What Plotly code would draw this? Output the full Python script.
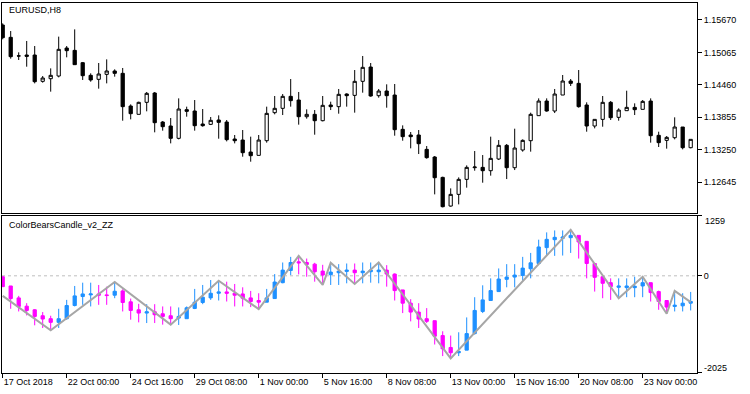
import plotly.graph_objects as go

# ---------------- data ----------------
bar_index = list(range(87))

tick_idx = [0, 8, 16, 24, 32, 40, 48, 56, 64, 72, 80]
tick_text = ["17 Oct 2018", "22 Oct 00:00", "24 Oct 16:00", "29 Oct 08:00",
             "1 Nov 00:00", "5 Nov 16:00", "8 Nov 08:00", "13 Nov 00:00",
             "15 Nov 16:00", "20 Nov 08:00", "23 Nov 00:00"]

price_ticks = [1.12645, 1.13250, 1.13855, 1.14460, 1.15065, 1.15670]

price_open = [
    1.15576, 1.15346, 1.14997, 1.15016, 1.15016, 1.14525, 1.14574, 1.14624, 1.15147, 1.15103,
    1.14873, 1.14637, 1.14562, 1.14655, 1.14718, 1.14674, 1.14064, 1.13909, 1.14133, 1.14307,
    1.13765, 1.13691, 1.13461, 1.13996, 1.13971, 1.13728, 1.13722, 1.13803, 1.13765, 1.13448,
    1.13429, 1.13205, 1.13143, 1.13417, 1.13940, 1.14021, 1.14245, 1.14176, 1.13865, 1.13909,
    1.13790, 1.14083, 1.14052, 1.14288, 1.14263, 1.14525, 1.14792, 1.14257, 1.14344, 1.14269,
    1.13629, 1.13523, 1.13523, 1.13255, 1.13112, 1.12732, 1.12197, 1.12415, 1.12695, 1.12913,
    1.12919, 1.12857, 1.13075, 1.13330, 1.12913, 1.13243, 1.13417, 1.13884, 1.14157, 1.13971,
    1.14269, 1.14531, 1.14487, 1.14083, 1.13691, 1.13815, 1.14133, 1.13853, 1.13977, 1.14039,
    1.14002, 1.14157, 1.13517, 1.13423, 1.13473, 1.13672, 1.13286]
price_high = [
    1.15607, 1.15464, 1.15066, 1.15278, 1.15184, 1.14624, 1.14767, 1.15359, 1.15184, 1.15495,
    1.14886, 1.14674, 1.14867, 1.14935, 1.14749, 1.14774, 1.14095, 1.14145, 1.14326, 1.14326,
    1.13784, 1.13840, 1.14207, 1.14052, 1.14176, 1.14008, 1.13859, 1.13890, 1.13803, 1.13523,
    1.13616, 1.13492, 1.13523, 1.14052, 1.14251, 1.14288, 1.14568, 1.14326, 1.14002, 1.13989,
    1.14251, 1.14145, 1.14382, 1.14301, 1.14736, 1.14998, 1.14867, 1.14382, 1.14469, 1.14475,
    1.13703, 1.13579, 1.13616, 1.13317, 1.13131, 1.12745, 1.12527, 1.12732, 1.12956, 1.13224,
    1.13149, 1.13492, 1.13429, 1.13355, 1.13641, 1.13442, 1.13940, 1.14207, 1.14207, 1.14382,
    1.14643, 1.14568, 1.14736, 1.14133, 1.13815, 1.14251, 1.14157, 1.14021, 1.14350, 1.14114,
    1.14176, 1.14207, 1.13585, 1.13504, 1.13853, 1.13672, 1.13442]
price_low = [
    1.15309, 1.14948, 1.14923, 1.14798, 1.14487, 1.14500, 1.14332, 1.14599, 1.14973, 1.14836,
    1.14550, 1.14518, 1.14388, 1.14487, 1.14612, 1.13790, 1.13815, 1.13909, 1.13965, 1.13573,
    1.13604, 1.13367, 1.13442, 1.13865, 1.13604, 1.13678, 1.13709, 1.13454, 1.13404, 1.13367,
    1.13118, 1.13025, 1.13143, 1.13380, 1.13909, 1.13896, 1.14052, 1.13716, 1.13828, 1.13529,
    1.13778, 1.13989, 1.13921, 1.14052, 1.13940, 1.14313, 1.14238, 1.14220, 1.14033, 1.13510,
    1.13417, 1.13274, 1.13168, 1.13081, 1.12415, 1.12172, 1.12185, 1.12228, 1.12540, 1.12857,
    1.12633, 1.12764, 1.13056, 1.12701, 1.12869, 1.13212, 1.13212, 1.13884, 1.13958, 1.13933,
    1.14269, 1.14438, 1.14033, 1.13585, 1.13647, 1.13678, 1.13803, 1.13790, 1.13977, 1.13896,
    1.14002, 1.13380, 1.13299, 1.13268, 1.13442, 1.13255, 1.13274]
price_close = [
    1.15340, 1.14985, 1.15000, 1.14991, 1.14518, 1.14587, 1.14637, 1.15122, 1.15097, 1.14836,
    1.14630, 1.14550, 1.14662, 1.14718, 1.14674, 1.14052, 1.13921, 1.14133, 1.14301, 1.13753,
    1.13678, 1.13461, 1.14008, 1.13965, 1.13697, 1.13697, 1.13797, 1.13759, 1.13436, 1.13417,
    1.13193, 1.13137, 1.13429, 1.13927, 1.14021, 1.14245, 1.14164, 1.13865, 1.13909, 1.13790,
    1.14077, 1.14052, 1.14282, 1.14257, 1.14525, 1.14786, 1.14251, 1.14344, 1.14257, 1.13622,
    1.13492, 1.13492, 1.13361, 1.13100, 1.12726, 1.12185, 1.12415, 1.12695, 1.12919, 1.12925,
    1.12857, 1.13087, 1.13330, 1.12913, 1.13280, 1.13423, 1.13909, 1.14157, 1.13971, 1.14288,
    1.14531, 1.14487, 1.14052, 1.13691, 1.13815, 1.14133, 1.13846, 1.13989, 1.14039, 1.13996,
    1.14151, 1.13510, 1.13380, 1.13479, 1.13672, 1.13286, 1.13442]

bears_open = [
    -19, -213, -463, -637, -713, -838, -900, -977, -900, -623,
    -435, -400, -380, -400, -407, -317, -546, -713, -782, -755,
    -796, -838, -887, -900, -685, -560, -463, -366, -338, -366,
    -380, -463, -518, -553, -477, -144, 113, 294, 280, 245,
    99, 23, 65, 93, 120, 65, 86, 86, 120, 37,
    -296, -574, -761, -900, -942, -1254, -1504, -1615, -1560, -1213,
    -748, -518, -331, -74, -26, 9, 148, 259, 592, 759,
    787, 801, 849, 724, 259, -19, -144, -241, -248, -248,
    -213, -144, -331, -518, -643, -630, -574]
bears_high = [
    -19, -213, -421, -574, -699, -761, -838, -692, -505, -213,
    -144, -144, -192, -227, -123, -282, -477, -588, -595, -595,
    -643, -643, -664, -643, -275, -192, -88, -102, -123, -171,
    -241, -317, -366, -275, 37, 280, 398, 419, 363, 273,
    231, 273, 245, 259, 259, 280, 280, 280, 224, 51,
    -296, -491, -574, -678, -942, -1164, -1254, -1185, -873, -449,
    -199, -53, 155, 245, 245, 398, 481, 759, 912, 953,
    953, 967, 849, 724, 259, -19, -53, -53, -53, -19,
    -19, -144, -310, -518, -317, -366, -338]
bears_low = [
    -227, -692, -748, -831, -1039, -1095, -1143, -1095, -921, -643,
    -609, -643, -609, -609, -470, -748, -921, -977, -991, -991,
    -1025, -1025, -1032, -900, -699, -595, -505, -518, -539, -643,
    -643, -657, -700, -553, -477, -157, 16, 30, -19, -123,
    -192, -192, -192, -157, -171, -157, -144, -157, -227, -518,
    -782, -956, -1095, -991, -1442, -1685, -1734, -1685, -1560, -1234,
    -782, -518, -331, -241, -241, -102, -53, 259, 433, 419,
    426, 481, 363, -53, -331, -470, -505, -470, -449, -449,
    -449, -539, -713, -796, -748, -748, -727]
bears_close = [
    -227, -477, -643, -727, -852, -907, -977, -900, -623, -421,
    -380, -380, -407, -414, -324, -560, -727, -782, -755, -817,
    -852, -900, -852, -671, -553, -449, -366, -338, -366, -407,
    -470, -539, -553, -463, -130, 120, 280, 273, 238, 86,
    16, 79, 99, 120, 65, 99, 120, 120, 37, -310,
    -574, -761, -907, -956, -1268, -1532, -1615, -1588, -1213, -727,
    -505, -310, -67, -26, 16, 162, 273, 606, 766, 808,
    815, 849, 710, 259, -32, -157, -227, -213, -213, -220,
    -144, -352, -539, -657, -616, -574, -539]

zz_index = [0, 6, 14, 21, 27, 32, 37, 40, 41, 44, 47, 56, 71, 77, 80, 83, 84, 86]
zz_value = [-421, -1143, -130, -1025, -102, -700, 419, -192, 273, -171, 280,
            -1734, 967, -470, -19, -796, -317, -553]

ind_ticks = [1259, 0, -2025]

# ---------------- figure ----------------
FONT = "Liberation Sans, Arial, sans-serif"
fig = go.Figure()

fig.add_trace(go.Candlestick(
    x=bar_index, open=price_open, high=price_high, low=price_low, close=price_close,
    xaxis="x", yaxis="y", whiskerwidth=0, showlegend=False, hoverinfo="skip",
    increasing=dict(line=dict(color="black", width=1), fillcolor="white"),
    decreasing=dict(line=dict(color="black", width=1), fillcolor="black")))

fig.add_trace(go.Candlestick(
    x=bar_index, open=bears_open, high=bears_high, low=bears_low, close=bears_close,
    xaxis="x2", yaxis="y2", whiskerwidth=0, showlegend=False, hoverinfo="skip",
    increasing=dict(line=dict(color="#1E90FF", width=1), fillcolor="#1E90FF"),
    decreasing=dict(line=dict(color="#FF00FF", width=1), fillcolor="#FF00FF")))

fig.add_trace(go.Scatter(
    x=zz_index, y=zz_value, mode="lines", xaxis="x2", yaxis="y2",
    line=dict(color="#A6A6A6", width=2), showlegend=False, hoverinfo="skip"))

xr = [-0.0875, 86.79]
common_x = dict(range=xr, showline=True, mirror=True, linecolor="black", linewidth=1,
                showgrid=False, zeroline=False, rangeslider=dict(visible=False),
                fixedrange=True)

fig.update_layout(
    width=750, height=394,
    margin=dict(l=2, r=53, t=3, b=21),
    paper_bgcolor="white", plot_bgcolor="white",
    boxgap=0.42,
    font=dict(family=FONT, size=9, color="black"),
    xaxis=dict(domain=[0, 1], anchor="y", showticklabels=False, ticks="", **common_x),
    xaxis2=dict(domain=[0, 1], anchor="y2", matches="x",
                tickmode="array", tickvals=tick_idx, ticktext=tick_text,
                ticks="outside", ticklen=4, tickcolor="black", tickwidth=1,
                ticklabelposition="outside right",
                tickfont=dict(family=FONT, size=9, color="black"), **common_x),
    yaxis=dict(domain=[0.4324, 1], range=[1.12067, 1.15987], side="right", anchor="x",
               showline=True, mirror=True, linecolor="black", linewidth=1,
               tickmode="array", tickvals=price_ticks,
               ticktext=[f"{v:.5f}" for v in price_ticks],
               ticks="outside", ticklen=4, tickcolor="black",
               showgrid=False, zeroline=False, fixedrange=True,
               tickfont=dict(family=FONT, size=9, color="black")),
    yaxis2=dict(domain=[0, 0.4251], range=[-2040, 1262], side="right", anchor="x2",
                showline=True, mirror=True, linecolor="black", linewidth=1,
                tickmode="array", tickvals=ind_ticks,
                ticktext=["", "0", ""],
                ticks="outside", ticklen=4, tickcolor="black",
                showgrid=False, zeroline=False, fixedrange=True,
                tickfont=dict(family=FONT, size=9, color="black")),
    shapes=[dict(type="line", xref="x2 domain", yref="y2", x0=0, x1=1, y0=0, y1=0,
                 line=dict(color="#BEBEBE", width=1, dash="3px,3px"), layer="below")],
    annotations=[
        dict(text="EURUSD,H8", xref="paper", yref="paper", x=0.007, y=0.981,
             xanchor="left", yanchor="middle", showarrow=False,
             font=dict(family=FONT, size=9, color="black")),
        dict(text="ColorBearsCandle_v2_ZZ", xref="paper", yref="paper", x=0.007, y=0.40,
             xanchor="left", yanchor="middle", showarrow=False,
             font=dict(family=FONT, size=9, color="black")),
        dict(text=str(ind_ticks[0]), xref="paper", yref="y2", x=1, y=ind_ticks[0],
             xanchor="left", yanchor="middle", xshift=6, yshift=-5, showarrow=False,
             font=dict(family=FONT, size=9, color="black")),
        dict(text=str(ind_ticks[2]), xref="paper", yref="y2", x=1, y=ind_ticks[2],
             xanchor="left", yanchor="middle", xshift=5, yshift=4, showarrow=False,
             font=dict(family=FONT, size=9, color="black")),
    ],
)

fig.write_html("out.html", config={"displayModeBar": False},
               post_script="document.body.style.margin='0';document.body.style.padding='0';")
